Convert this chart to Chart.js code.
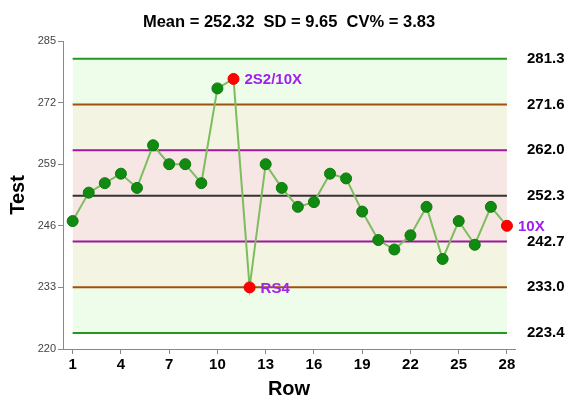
<!DOCTYPE html>
<html>
<head>
<meta charset="utf-8">
<script src="https://cdn.jsdelivr.net/npm/chart.js@4/dist/chart.umd.min.js"></script>
<style>
html,body{margin:0;padding:0;background:#fff;}
canvas{display:block;}
</style>
</head>
<body>
<canvas id="c" width="565" height="401"></canvas>
<script>
// ---- data ----
const rows = [1,2,3,4,5,6,7,8,9,10,11,12,13,14,15,16,17,18,19,20,21,22,23,24,25,26,27,28];
const values = [247,253,255,257,254,263,259,259,255,275,277,233,259,254,250,251,257,256,249,243,241,244,250,239,247,242,250,246];
const flags = ["","","","","","","","","","","2S2/10X","RS4","","","","","","","","","","","","","","","","10X"];
const meanValue = 252.32;
const sdValue = 9.65;
const cvValue = 3.83;
const limitValues = [281.27, 271.62, 261.97, 252.32, 242.67, 233.02, 223.37]; // +3,+2,+1,mean,-1,-2,-3 SD
const yTicks = [220, 233, 246, 259, 272, 285];
const xTicks = [1, 4, 7, 10, 13, 16, 19, 22, 25, 28];

const FONT = "'Liberation Sans', Arial, sans-serif";
const firstRow = rows[0], lastRow = rows[rows.length - 1];
const seg = v => [{x: firstRow, y: v}, {x: lastRow, y: v}];

const lineColors = ['#229a22', '#a0520c', '#9a1a9a', '#333333', '#9a1a9a', '#a0520c', '#229a22'];
const bandColors = ['#eefcea', '#f3f5e2', '#f6e7e4', '#f6e7e4', '#f3f5e2', '#eefcea', 'transparent'];

const limitDatasets = limitValues.map((v, i) => ({
  type: 'line',
  data: seg(v),
  borderColor: lineColors[i],
  borderWidth: 2,
  pointRadius: 0,
  fill: i < limitValues.length - 1 ? '+1' : false,
  backgroundColor: bandColors[i],
  order: 10
}));

const labelPlugin = {
  id: 'flagLabels',
  afterDatasetsDraw(chart) {
    const meta = chart.getDatasetMeta(0);
    const ctx = chart.ctx;
    ctx.save();
    ctx.font = "bold 15px " + FONT;
    ctx.fillStyle = '#a020f0';
    ctx.textAlign = 'left';
    ctx.textBaseline = 'middle';
    flags.forEach((f, i) => {
      if (!f) return;
      const el = meta.data[i];
      ctx.fillText(f, el.x + 11, el.y + 1);
    });
    ctx.restore();
  }
};

new Chart(document.getElementById('c'), {
  type: 'line',
  data: {
    datasets: [
      {
        data: rows.map((r, i) => ({x: r, y: values[i]})),
        borderColor: '#7dbd5e',
        borderWidth: 2,
        pointRadius: 5.5,
        pointBorderWidth: 1,
        pointBackgroundColor: flags.map(f => f ? '#ff0000' : '#108a10'),
        pointBorderColor: flags.map(f => f ? '#ee0000' : '#0c7a0c'),
        fill: false,
        order: 0
      },
      ...limitDatasets
    ]
  },
  options: {
    responsive: false,
    animation: false,
    devicePixelRatio: 1,
    layout: {padding: 0},
    plugins: {
      legend: {display: false},
      tooltip: {enabled: false},
      filler: {drawTime: 'beforeDatasetsDraw'},
      title: {
        display: true,
        fullSize: false,
        text: 'Mean = ' + meanValue.toFixed(2) + '  SD = ' + sdValue.toFixed(2) + '  CV% = ' + cvValue.toFixed(2),
        color: '#000',
        font: {family: FONT, size: 16.5, weight: 'bold', lineHeight: 1.2},
        padding: {top: 12.5, bottom: 8.7}
      }
    },
    scales: {
      x: {
        type: 'linear',
        min: 0.4,
        max: 28.5,
        afterBuildTicks: s => { s.ticks = xTicks.map(v => ({value: v})); },
        afterFit: s => { s.height = 52; },
        grid: {display: true, drawOnChartArea: false, drawTicks: true, tickLength: 5, color: '#888'},
        border: {display: true, color: '#888', width: 1},
        ticks: {color: '#000', font: {family: FONT, size: 15, weight: 'bold'}, padding: 2, maxRotation: 0, autoSkip: false},
        title: {display: true, text: 'Row', color: '#000', font: {family: FONT, size: 20, weight: 'bold', lineHeight: 1.2}, padding: {top: 0, bottom: 0}}
      },
      y: {
        position: 'left',
        min: 220,
        max: 285,
        afterBuildTicks: s => { s.ticks = yTicks.map(v => ({value: v})); },
        afterFit: s => { s.width = 63; },
        grid: {display: true, drawOnChartArea: false, drawTicks: true, tickLength: 5, color: '#888'},
        border: {display: true, color: '#888', width: 1},
        ticks: {color: '#444', font: {family: FONT, size: 11}, padding: 2},
        title: {display: true, text: 'Test', color: '#000', font: {family: FONT, size: 20, weight: 'bold', lineHeight: 1.2}, padding: {top: 6, bottom: 0}}
      },
      y2: {
        position: 'right',
        min: 220,
        max: 285,
        afterBuildTicks: s => { s.ticks = limitValues.map(v => ({value: v})); },
        afterFit: s => { s.width = 50; },
        grid: {display: false, drawOnChartArea: false, drawTicks: false, tickLength: 0},
        border: {display: false},
        ticks: {color: '#000', font: {family: FONT, size: 15, weight: 'bold'}, padding: 12, callback: v => Number(v).toFixed(1)}
      }
    }
  },
  plugins: [labelPlugin]
});
</script>
</body>
</html>
